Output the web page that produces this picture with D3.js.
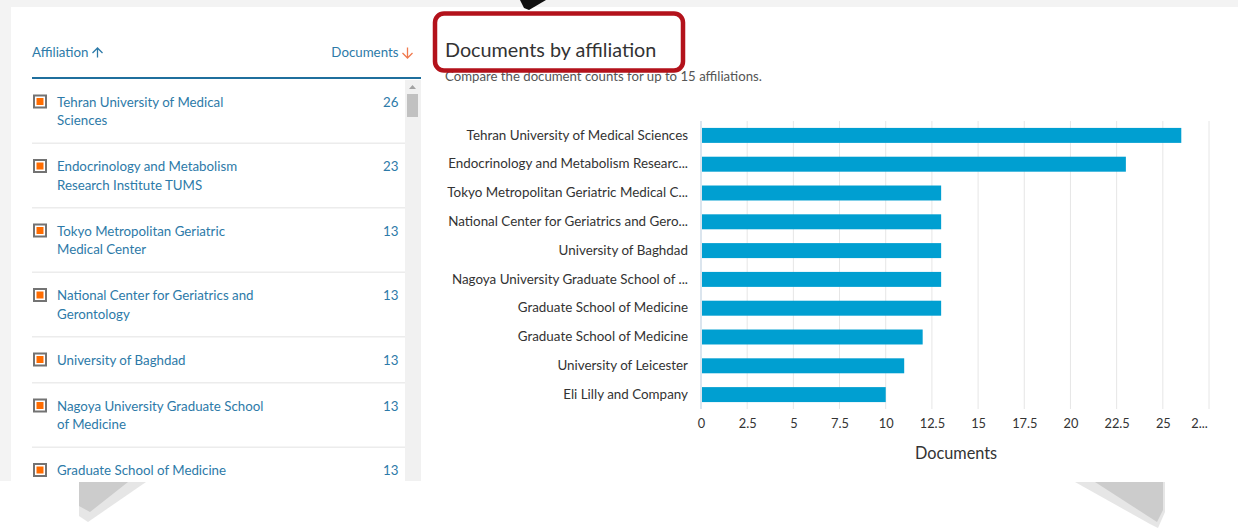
<!DOCTYPE html>
<html>
<head>
<meta charset="utf-8">
<script src="https://cdn.jsdelivr.net/npm/d3@7"></script>
<style>
  html, body { margin: 0; padding: 0; background: #ffffff; }
  svg { display: block; font-family: Lato, "Open Sans", sans-serif; }
</style>
</head>
<body>
<svg id="chart" width="1238" height="529"></svg>
<script>
// ---------- data ----------
const affiliations = [
  "Tehran University of Medical Sciences",
  "Endocrinology and Metabolism Research Institute TUMS",
  "Tokyo Metropolitan Geriatric Medical Center",
  "National Center for Geriatrics and Gerontology",
  "University of Baghdad",
  "Nagoya University Graduate School of Medicine",
  "Graduate School of Medicine",
  "Graduate School of Medicine",
  "University of Leicester",
  "Eli Lilly and Company"
];
const chartLabels = [
  "Tehran University of Medical Sciences",
  "Endocrinology and Metabolism Researc...",
  "Tokyo Metropolitan Geriatric Medical C...",
  "National Center for Geriatrics and Gero...",
  "University of Baghdad",
  "Nagoya University Graduate School of ...",
  "Graduate School of Medicine",
  "Graduate School of Medicine",
  "University of Leicester",
  "Eli Lilly and Company"
];
const documents = [26, 23, 13, 13, 13, 13, 13, 12, 11, 10];
const xTickValues = [0, 2.5, 5, 7.5, 10, 12.5, 15, 17.5, 20, 22.5, 25, 27.5];
const xTickLabels = ["0", "2.5", "5", "7.5", "10", "12.5", "15", "17.5", "20", "22.5", "25", "2..."];
const titleText = "Documents by affiliation";
const subtitleText = "Compare the document counts for up to 15 affiliations.";
const axisTitle = "Documents";

// ---------- page frame ----------
const svg = d3.select("#chart");
const W = 1238, H = 529;
svg.append("rect").attr("x", 0).attr("y", 0).attr("width", W).attr("height", 7).attr("fill", "#f3f3f3");
svg.append("rect").attr("x", 0).attr("y", 0).attr("width", 11).attr("height", 481).attr("fill", "#f3f3f3");

// ---------- table (left) ----------
const blue = "#2d7aa8";
const FS = 13.3;
const table = svg.append("g");

table.append("text").attr("x", 32).attr("y", 56.5).attr("font-size", FS).attr("fill", blue).text("Affiliation");
table.append("path").attr("d", "M92.5,53 L97.5,48 L102.5,53 M97.5,48 L97.5,57.5").attr("stroke", blue).attr("stroke-width", 1.3).attr("fill", "none");
table.append("text").attr("x", 398.5).attr("y", 56.5).attr("font-size", FS).attr("fill", blue).attr("text-anchor", "end").text("Documents");
table.append("path").attr("d", "M402.5,53 L407.5,58 L412.5,53 M407.5,58 L407.5,47.5").attr("stroke", "#f07a4e").attr("stroke-width", 1.3).attr("fill", "none");
table.append("rect").attr("x", 32).attr("y", 77).attr("width", 389).attr("height", 2).attr("fill", "#1f6f9d");

// scrollbar
table.append("rect").attr("x", 405).attr("y", 80).attr("width", 16).attr("height", 401).attr("fill", "#f1f1f1");
table.append("path").attr("d", "M409,89 L412.5,85 L416,89 Z").attr("fill", "#a3a3a3");
table.append("rect").attr("x", 407).attr("y", 94).attr("width", 11).attr("height", 23).attr("fill", "#c1c1c1");

// wrap helper
function wrapWords(text, maxW, fontSize) {
  const probe = table.append("text").attr("font-size", fontSize).attr("visibility", "hidden");
  const words = text.split(" ");
  const lines = [];
  let cur = "";
  for (const w of words) {
    const test = cur ? cur + " " + w : w;
    probe.text(test);
    if (probe.node().getComputedTextLength() > maxW && cur) { lines.push(cur); cur = w; }
    else cur = test;
  }
  if (cur) lines.push(cur);
  probe.remove();
  return lines;
}

const visibleBottom = 481;
let rowTop = 79;
affiliations.forEach((name, i) => {
  if (rowTop + 30 > visibleBottom) return;          // row scrolled out of view
  const lines = wrapWords(name, 214, FS);
  const rowH = 46 + (lines.length - 1) * 18.5;
  const cy = rowTop + 23;
  const g = table.append("g");
  g.append("rect").attr("x", 34).attr("y", cy - 6.5).attr("width", 12).attr("height", 12)
    .attr("fill", "#ffffff").attr("stroke", "#737373").attr("stroke-width", 2);
  g.append("rect").attr("x", 36.5).attr("y", cy - 4).attr("width", 7).attr("height", 7).attr("fill", "#ff6c00");
  const t = g.append("text").attr("x", 57).attr("y", cy + 4.5).attr("font-size", FS).attr("fill", blue);
  lines.forEach((ln, j) => {
    if (cy + j * 18.5 + 6 > visibleBottom) return;
    t.append("tspan").attr("x", 57).attr("dy", j === 0 ? 0 : 18.5).text(ln);
  });
  g.append("text").attr("x", 398.5).attr("y", cy + 4.5).attr("font-size", FS).attr("fill", blue)
    .attr("text-anchor", "end").text(documents[i]);
  rowTop += rowH;
  if (rowTop < visibleBottom)
    g.append("rect").attr("x", 32).attr("y", rowTop - 1).attr("width", 373).attr("height", 1.5).attr("fill", "#ececec");
});

// ---------- bar chart (right) ----------
svg.append("text").attr("x", 445).attr("y", 57).attr("font-size", 19.8).attr("fill", "#333333").text(titleText);
svg.append("text").attr("x", 445).attr("y", 81).attr("font-size", 13.2).attr("fill", "#555555").text(subtitleText);

const x = d3.scaleLinear().domain([0, 27.5]).range([701, 1209]);
const y = d3.scaleBand().domain(d3.range(chartLabels.length)).range([121, 409])
  .paddingInner(0.48).paddingOuter(0.24);

// gridlines
svg.append("g").selectAll("line").data(xTickValues).join("line")
  .attr("x1", d => x(d)).attr("x2", d => x(d)).attr("y1", 121).attr("y2", 409)
  .attr("stroke", d => d === 0 ? "#dbe5ee" : "#e6e6e6").attr("stroke-width", d => d === 0 ? 2 : 1);

// bars
svg.append("g").selectAll("rect").data(documents).join("rect")
  .attr("x", x(0) + 1).attr("y", (d, i) => y(i))
  .attr("width", d => x(d) - x(0) - 1).attr("height", y.bandwidth())
  .attr("fill", "#009fd1");

// y labels
const yAxis = d3.axisLeft(y).tickSize(0).tickPadding(0).tickFormat(i => chartLabels[i]);
const yg = svg.append("g").attr("transform", "translate(688,0)").call(yAxis);
yg.select(".domain").remove();
yg.selectAll("text").attr("font-size", 13.4).attr("fill", "#333333").attr("font-family", "Lato, sans-serif");

// x axis
const xAxis = d3.axisBottom(x).tickValues(xTickValues).tickSize(0).tickPadding(0)
  .tickFormat((d, i) => xTickLabels[i]);
const xg = svg.append("g").attr("transform", "translate(0,421)").call(xAxis);
xg.select(".domain").remove();
xg.selectAll("text").attr("font-size", 12.8).attr("fill", "#333333").attr("font-family", "Lato, sans-serif").attr("dy", "0.71em").attr("y", -2);
xg.selectAll(".tick").filter((d, i) => i === xTickValues.length - 1).select("text").attr("dx", -10);

svg.append("text").attr("x", 956).attr("y", 459).attr("font-size", 16.3).attr("fill", "#333333")
  .attr("text-anchor", "middle").text(axisTitle);

// ---------- annotations ----------
svg.append("rect").attr("x", 435).attr("y", 13.5).attr("width", 248).attr("height", 57).attr("rx", 9)
  .attr("fill", "none").attr("stroke", "#b3121b").attr("stroke-width", 4.5);
svg.append("path").attr("d", "M520,0 L546,0 L529,10 L524,8 Z").attr("fill", "#111111");

// bottom artifacts (pixelated grey shapes below the screenshot)
svg.append("rect").attr("x", 0).attr("y", 481).attr("width", W).attr("height", 48).attr("fill", "#ffffff");
svg.append("path").attr("d", "M79,482 L146,482 L88,522 L79,516 Z").attr("fill", "#e6e6e6");
svg.append("path").attr("d", "M79,482 L128,482 L90,512 L79,506 Z").attr("fill", "#cccccc");
svg.append("path").attr("d", "M1075,482 L1165,482 L1165,512 L1158,528 L1150,524 Z").attr("fill", "#e6e6e6");
svg.append("path").attr("d", "M1095,482 L1163,482 L1163,510 L1157,522 Z").attr("fill", "#cccccc");
</script>
</body>
</html>
